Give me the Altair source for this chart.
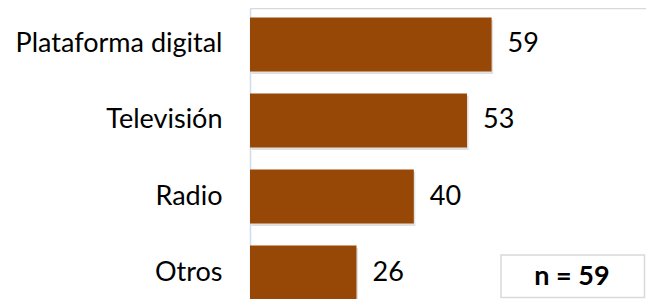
import altair as alt
import pandas as pd

categories = ["Plataforma digital", "Televisión", "Radio", "Otros"]
values = [59, 53, 40, 26]
n_label = "n = 59"

df = pd.DataFrame({"cat": categories, "val": values})

FONT = "Lato"
BAR = "#974706"

y_scale = alt.Scale(range=[0, 301], paddingInner=0.2895, paddingOuter=0.125)
y_enc = alt.Y("cat:N", sort=categories, scale=y_scale,
              axis=alt.Axis(title=None, ticks=False, labelPadding=28, labelLimit=0,
                            labelFontSize=27, labelFont=FONT, labelColor="#000000",
                            domainColor="#D0DDEF", domainWidth=1.5))
x_scale = alt.Scale(domain=[0, 96.7], nice=False, zero=True)
x_enc = alt.X("val:Q", scale=x_scale,
              axis=alt.Axis(orient="top", title=None, labels=False, ticks=False,
                            grid=False, domainColor="#D9D9D9", domainWidth=1.5))

base = alt.Chart(df)

shadow = base.mark_bar(color="#000000", opacity=0.12, xOffset=1.5, yOffset=2.5).encode(
    x=x_enc, y=y_enc)
bars = base.mark_bar(color=BAR).encode(x=x_enc, y=y_enc)
labels = base.mark_text(align="left", baseline="middle", dx=16, fontSize=27,
                        font=FONT, color="#000000").encode(
    x=alt.X("val:Q", scale=x_scale), y=alt.Y("cat:N", sort=categories, scale=y_scale),
    text="val:Q")

box_df = pd.DataFrame({"t": [n_label]})
box = alt.Chart(box_df).mark_rect(fill="#FFFFFF", stroke="#D9D9D9", strokeWidth=1.5).encode(
    x=alt.value(251), x2=alt.value(394.5), y=alt.value(247), y2=alt.value(289.5))
box_text = alt.Chart(box_df).mark_text(fontSize=27, font=FONT, fontWeight="bold",
                                       color="#000000", align="center",
                                       baseline="middle").encode(
    x=alt.value(322), y=alt.value(269), text="t:N")

chart = alt.layer(shadow, bars, labels, box, box_text).properties(
    width=396, height=291,
    padding={"left": 242, "top": 0, "right": 0, "bottom": 0},
    autosize=alt.AutoSizeParams(type="none"),
).configure_view(fill="#F2F2F2", stroke=None).configure(background="#FFFFFF")

chart.save("out.html", embed_options={"renderer": "svg", "actions": False})
